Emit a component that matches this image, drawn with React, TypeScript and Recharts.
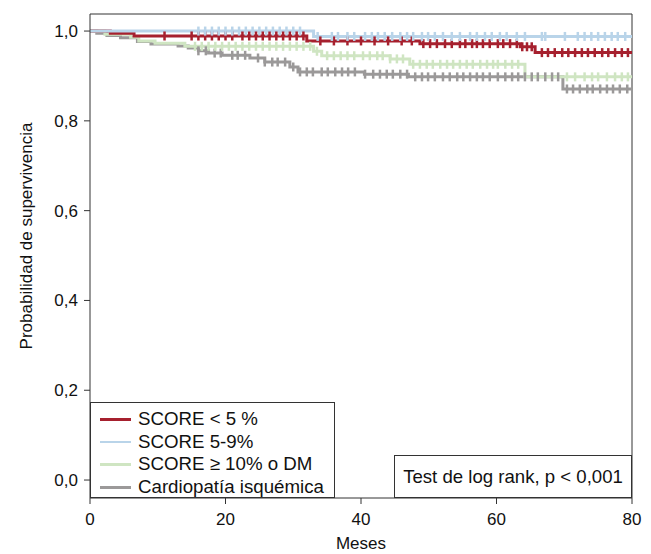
import React from 'react';
import { LineChart, Line, XAxis, YAxis, ReferenceLine } from 'recharts';

const monthTicks = [0, 20, 40, 60, 80];
const survTicks = [0, 0.2, 0.4, 0.6, 0.8, 1];

// SCORE < 5 %
const redTimes = [0, 3, 6.5, 32, 48.7, 63.5, 65.7];
const redSurv = [1, 0.995, 0.989, 0.978, 0.972, 0.965, 0.952];
const redCens = [11, 15, 16, 17, 18, 19, 20, 21, 22.5, 23.5, 24.5, 25.5, 26.5, 27.5, 28.5, 29.5, 30.5, 31.5, 34, 36, 38, 40, 42, 44, 46, 47.5, 49.2, 50.2, 51.2, 52.4, 53.4, 54.6, 55.4, 56.4, 57.1, 58, 59, 60.2, 61, 62, 63, 63.8, 64.5, 65.2, 66.7, 67.6, 68.6, 69.7, 70.6, 71.6, 72.6, 73.5, 74.5, 75.6, 76.5, 77.5, 78.5, 79.4];

// SCORE 5-9%
const blueTimes = [0, 33];
const blueSurv = [1, 0.988];
const blueCens = [16, 17, 18, 19, 20, 21, 22, 23, 24, 25, 26, 27, 28, 29, 30, 31, 33.6, 35.7, 36.6, 38, 39, 40.6, 41.6, 42.5, 43.5, 44.6, 45.8, 46.8, 47.7, 49, 49.9, 50.9, 52.1, 53.4, 54.6, 56.1, 57.1, 58.3, 59.3, 60.5, 61.5, 63, 64.2, 66.7, 67.2, 70.1, 72, 73, 74, 75, 76, 77, 77.9, 79];

// SCORE >= 10% o DM
const greenTimes = [0, 2.2, 6, 7.2, 9.6, 14, 33, 34.2, 44.3, 47.2, 64.2];
const greenSurv = [1, 0.993, 0.986, 0.978, 0.973, 0.966, 0.955, 0.945, 0.938, 0.926, 0.898];
const greenCens = [15.5, 16.5, 17.5, 18.5, 19.5, 20.5, 21.5, 22.5, 23.5, 24.5, 25.5, 26.5, 27.5, 28.5, 29.5, 30.5, 31.5, 32.5, 33.5, 35, 36, 37, 38, 39, 40.3, 41.3, 42.4, 43.2, 44.3, 45.3, 46.2, 47.7, 48.7, 49.7, 50.6, 51.7, 52.7, 53.6, 54.6, 55.6, 56.5, 57.6, 58.6, 59.5, 60.2, 61.3, 62.3, 63.2, 70.4, 71.6, 73, 74.1, 75, 76.3, 77.5, 78.5, 79.4];

// Cardiopatía isquémica
const grayTimes = [0, 1, 2.5, 4.5, 7, 9, 13, 14.5, 16, 17.5, 19.5, 23.6, 25.8, 29.5, 30.7, 40.5, 47, 69.8];
const graySurv = [1, 0.995, 0.99, 0.985, 0.977, 0.971, 0.967, 0.962, 0.956, 0.951, 0.946, 0.94, 0.931, 0.92, 0.909, 0.904, 0.898, 0.871];
const grayCens = [16, 17.1, 18.4, 19.3, 21, 21.8, 22.9, 24.8, 25.8, 26.9, 27.7, 28.8, 30, 31, 32, 32.9, 34.2, 35.1, 36.2, 37.2, 38.1, 39.1, 40.6, 41.8, 42.8, 43.8, 44.7, 45.8, 46.8, 48, 49, 49.9, 50.9, 52.1, 53.1, 54.2, 55.1, 56.1, 57.1, 58, 59, 60.2, 61.3, 62.3, 63.2, 64.2, 65.2, 66.1, 67.2, 68.2, 69.1, 70.4, 71.3, 72.3, 73.4, 74.2, 75.3, 76.3, 77.2, 78.2, 79.3];

const FONT = '"Liberation Sans", Arial, sans-serif';
const AXIS = '#333';

function buildCurve(times: number[], surv: number[], cens: number[]) {
  const ts = Array.from(new Set([...times, ...cens, 80])).sort((a, b) => a - b);
  return ts.map((t) => {
    let s = surv[0];
    times.forEach((st, i) => {
      if (st <= t) s = surv[i];
    });
    return { t, s, c: cens.includes(t) };
  });
}

const series = [
  { key: 'gray', name: 'Cardiopatía isquémica', color: '#9b9999', data: buildCurve(grayTimes, graySurv, grayCens) },
  { key: 'green', name: 'SCORE ≥ 10% o DM', color: '#cfe5c2', data: buildCurve(greenTimes, greenSurv, greenCens) },
  { key: 'red', name: 'SCORE < 5 %', color: '#a6202e', data: buildCurve(redTimes, redSurv, redCens) },
  { key: 'blue', name: 'SCORE 5-9%', color: '#b9d4e9', data: buildCurve(blueTimes, blueSurv, blueCens) },
];

const legendOrder = ['red', 'blue', 'green', 'gray'];

const censorDot = (color: string) => (props: any) => {
  const { cx, cy, payload, index } = props;
  if (!payload || !payload.c) return <g key={`d-${index}`} />;
  return (
    <line key={`d-${index}`} x1={cx} x2={cx} y1={cy - 4.5} y2={cy + 4.5} stroke={color} strokeWidth={2.5} />
  );
};

const fmt = (v: number) => v.toFixed(1).replace('.', ',');

export default function App() {
  return (
    <div style={{ position: 'absolute', left: 0, top: 0, width: 651, height: 554, background: '#fff', fontFamily: FONT }}>
      <LineChart width={651} height={554} margin={{ top: 14, right: 19, left: 0, bottom: 0 }}>
        <XAxis
          dataKey="t"
          type="number"
          domain={[0, 80]}
          ticks={monthTicks}
          allowDataOverflow
          height={56}
          stroke={AXIS}
          tickSize={6}
          tickMargin={9}
          tick={{ fontSize: 17, fill: '#111', fontFamily: FONT }}
          label={{ value: 'Meses', position: 'insideBottom', offset: 5, fontSize: 17, fill: '#111', fontFamily: FONT }}
        />
        <YAxis
          type="number"
          domain={[-0.04, 1.038]}
          ticks={survTicks}
          allowDataOverflow
          width={90}
          stroke={AXIS}
          tickSize={6}
          tickMargin={6}
          tickFormatter={fmt}
          tick={{ fontSize: 17, fill: '#111', fontFamily: FONT }}
          label={{
            value: 'Probabilidad de supervivencia',
            angle: -90,
            position: 'center',
            dx: -19,
            dy: -20,
            fontSize: 17,
            fill: '#111',
            fontFamily: FONT,
          }}
        />
        <ReferenceLine y={1.038} stroke={AXIS} strokeWidth={1} />
        <ReferenceLine x={80} stroke={AXIS} strokeWidth={1} />
        {series.map((s) => (
          <Line
            key={s.key}
            data={s.data}
            dataKey="s"
            type="stepAfter"
            stroke={s.color}
            strokeWidth={3}
            dot={censorDot(s.color)}
            activeDot={false}
            isAnimationActive={false}
          />
        ))}
      </LineChart>

      <div
        style={{
          position: 'absolute',
          left: 90,
          top: 402,
          width: 245,
          height: 96,
          boxSizing: 'border-box',
          border: `1px solid ${AXIS}`,
          background: '#fff',
          paddingTop: 5,
          fontSize: 18.7,
          color: '#111',
        }}
      >
        {legendOrder.map((k) => {
          const s = series.find((x) => x.key === k)!;
          return (
            <div key={k} style={{ display: 'flex', alignItems: 'center', height: 22.7, lineHeight: '22.7px', whiteSpace: 'nowrap' }}>
              <span style={{ display: 'inline-block', width: 31, height: 2.5, background: s.color, marginLeft: 9, marginRight: 7 }} />
              <span>{s.name}</span>
            </div>
          );
        })}
      </div>

      <div
        style={{
          position: 'absolute',
          left: 394,
          top: 455,
          width: 238,
          height: 43,
          boxSizing: 'border-box',
          border: `1px solid ${AXIS}`,
          background: '#fff',
          fontSize: 18.6,
          color: '#111',
          display: 'flex',
          alignItems: 'center',
          justifyContent: 'center',
          whiteSpace: 'nowrap',
        }}
      >
        Test de log rank, p &lt; 0,001
      </div>
    </div>
  );
}
